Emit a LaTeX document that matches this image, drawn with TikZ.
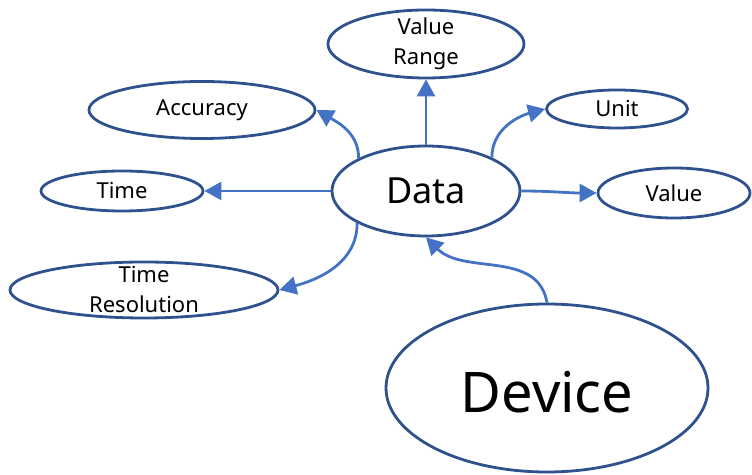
\documentclass[tikz,border=0pt]{standalone}
\usepackage{fontspec}
\setmainfont{Noto Sans}
\usetikzlibrary{shapes.geometric,arrows.meta}
\definecolor{ellblue}{HTML}{2F528F}
\definecolor{arrblue}{HTML}{4472C4}
\begin{document}
\begin{tikzpicture}[x=1pt,y=1pt,
  ell/.style={draw=ellblue, line width=2.8pt, ellipse, inner sep=0pt},
  conn/.style={draw=arrblue, line width=2.8pt, -{Triangle[length=17pt,width=18pt]}},
  small/.style={font=\fontsize{22}{30}\selectfont, align=center},
  mid/.style={font=\fontsize{36}{40}\selectfont},
  big/.style={font=\fontsize{56}{60}\selectfont}]
\useasboundingbox (0,0) rectangle (752,474);
\node[ell, minimum width=196pt, minimum height=68pt, label={[small]center:Value\\Range}] (vr) at (426,430) {};
\node[ell, minimum width=226pt, minimum height=57pt, label={[small]center:Accuracy}] (acc) at (202,364) {};
\node[ell, minimum width=141pt, minimum height=38pt, label={[small]center:Unit}] (unit) at (617,365) {};
\node[ell, minimum width=162pt, minimum height=40pt, label={[small]center:Time}] (time) at (122,283) {};
\node[ell, minimum width=188pt, minimum height=90pt, label={[mid]center:Data}] (data) at (426,283) {};
\node[ell, minimum width=152pt, minimum height=50pt, label={[small]center:Value}] (value) at (674,281) {};
\node[ell, minimum width=268pt, minimum height=56pt, label={[small]center:Time\\Resolution}] (tres) at (144,184) {};
\node[ell, minimum width=322pt, minimum height=168pt, label={[big,yshift=-4pt]center:Device}] (device) at (547,86) {};

\draw[conn] (data.north) -- (vr.south);
\draw[conn] (data.154) to[out=90,in=-30] (acc.east);
\draw[conn] (data.27) to[out=90,in=195] (unit.west);
\draw[conn] (data.west) -- (time.east);
\draw[conn] (data.east) to[out=0,in=180] (value.west);
\draw[conn] (data.205) to[out=-90,in=15] (tres.east);
\draw[conn] (device.north) to[out=100,in=-45] (data.south);
\end{tikzpicture}
\end{document}
